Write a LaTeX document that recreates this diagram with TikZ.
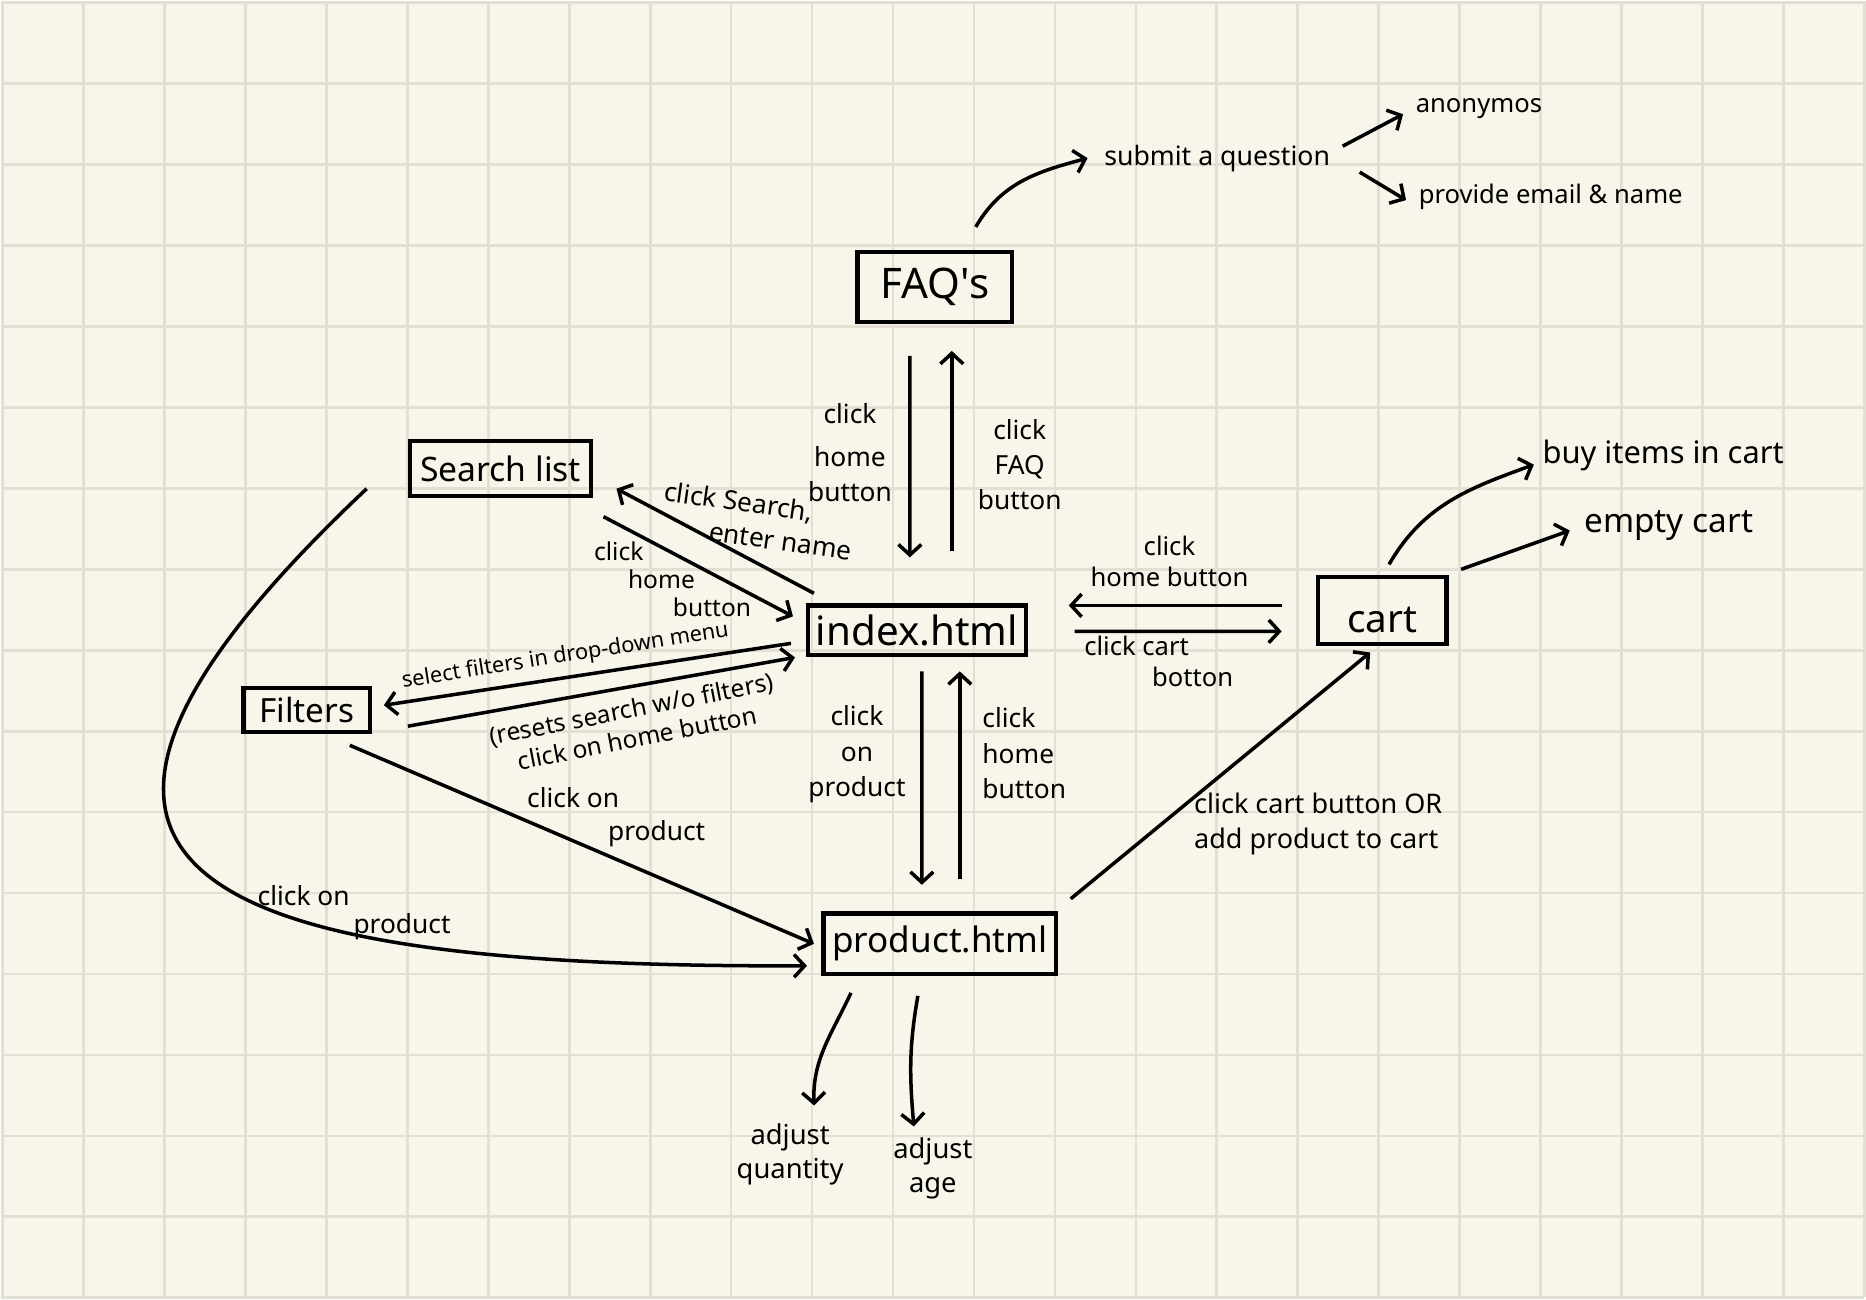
\documentclass[tikz,border=0pt]{standalone}
\usepackage{fontspec}
\setmainfont{Noto Sans}
\usetikzlibrary{arrows.meta, calc}
\usepackage{xcolor}

\definecolor{paper}{HTML}{F8F6EA}
\definecolor{gridc}{HTML}{E3E0D3}

\begin{document}
\begin{tikzpicture}[>={Straight Barb[length=3pt,width=6.5pt]},
  page/.style={draw, line width=1.2pt, inner sep=0pt},
  flow/.style={->, line width=1pt},
  lbl/.style={font=\fontsize{7.5}{9.5}\selectfont, inner sep=0pt, align=center},
  goal/.style={font=\fontsize{7.6}{9}\selectfont, inner sep=0pt, anchor=west}]

  % grid paper
  \fill[paper] (0,0) rectangle (18.66,-12.98);
  \foreach \i in {0,...,23}
    \draw[gridc, line width=0.8pt] ({0.01+0.811*\i},0) -- ++(0,-12.98);
  \foreach \j in {0,...,16}
    \draw[gridc, line width=0.8pt] (0,{-0.01-0.811*\j}) -- ++(18.66,0);
  \useasboundingbox (0,0) rectangle (18.66,-12.98);

  % pages
  \node[page, minimum width=1.55cm, minimum height=0.70cm, font=\fontsize{12}{14}\selectfont] (faq) at (9.35,-2.86) {FAQ\textquotesingle s};
  \node[page, minimum width=1.81cm, minimum height=0.55cm, font=\fontsize{9.6}{12}\selectfont] (search) at (5.00,-4.68) {Search list};
  \node[page, minimum width=2.18cm, minimum height=0.50cm, font=\fontsize{11.5}{13}\selectfont] (index) at (9.17,-6.30) {index.html};
  \node[page, minimum width=1.27cm, minimum height=0.44cm, font=\fontsize{9.5}{11}\selectfont] (filters) at (3.06,-7.10) {Filters};
  \node[page, minimum width=1.29cm, minimum height=0.67cm, font=\fontsize{11}{13}\selectfont, text height=0.44cm, text depth=0pt] (cart) at (13.83,-6.10) {cart};
  \node[page, minimum width=2.33cm, minimum height=0.61cm, font=\fontsize{10}{12}\selectfont] (product) at (9.40,-9.44) {product.html};

  % outcomes
  \node[goal] (submit) at (11.04,-1.57) {submit a question};
  \node[goal, font=\fontsize{7.3}{9}\selectfont] (anon) at (14.16,-1.07) {anonymos};
  \node[goal, font=\fontsize{7.3}{9}\selectfont] (provide) at (14.19,-1.96) {provide email \& name};
  \node[goal, font=\fontsize{8.8}{10}\selectfont] (buy) at (15.43,-4.55) {buy items in cart};
  \node[goal, font=\fontsize{9.5}{11}\selectfont] (empty) at (15.85,-5.25) {empty cart};
  \node[lbl, font=\fontsize{7.8}{9.5}\selectfont] (quantity) at (7.90,-11.55) {adjust\\quantity};
  \node[lbl, font=\fontsize{7.8}{9.5}\selectfont] (age) at (9.33,-11.69) {adjust\\age};

  % FAQ
  \draw[flow] ($(faq.north)+(0.41,0.23)$) to[out=60,in=195] ($(submit.west)+(-0.16,0)$);
  \draw[flow] ($(submit.east)+(0.12,0.12)$) -- ($(anon.west)+(-0.12,-0.06)$);
  \draw[flow] ($(submit.east)+(0.29,-0.14)$) -- ($(provide.west)+(-0.12,-0.03)$);
  \draw[flow] ($(faq.south)+(-0.25,-0.32)$) -- ($(index.north)+(-0.07,0.46)$);
  \draw[flow] ($(index.north)+(0.35,0.52)$) -- ($(faq.south)+(0.17,-0.27)$);
  \node[lbl, font=\fontsize{7.5}{10}\selectfont] (lfaqdown) at (8.50,-4.52) {click\\[2pt]home\\button};
  \node[lbl, font=\fontsize{7.5}{10}\selectfont] (lfaqup) at (10.20,-4.64) {click\\FAQ\\button};

  % search list
  \draw[flow] ($(index.north west)+(0.08,0.10)$) -- ($(search.south east)+(0.235,0.095)$);
  \draw[flow] ($(search.south east)+(0.105,-0.185)$) -- ($(index.west)+(-0.13,0.14)$);
  \node[lbl, align=left, rotate=-8] (lsearch) at (7.58,-5.20) {click Search,\\\hspace*{0.5cm}enter name};
  \node[lbl, align=left, anchor=west, font=\fontsize{7}{8}\selectfont] (lsearchback) at (5.93,-5.79) {click\\\hspace*{0.34cm}home\\\hspace*{0.79cm}button};
  \draw[flow] ($(search.south west)+(-0.415,0.095)$) .. controls (-0.5,-8.8) and (2.09,-9.68) .. ($(product.west)+(-0.145,-0.22)$);
  \node[lbl, align=left, anchor=west, font=\fontsize{7.5}{8}\selectfont] (lcurve) at (2.56,-9.13) {click on\\\hspace*{0.96cm}product};

  % filters
  \draw[flow] ($(index.west)+(-0.15,-0.13)$) -- ($(filters.east)+(0.115,0.05)$);
  \draw[flow] ($(filters.east)+(0.355,-0.16)$) -- ($(index.south west)+(-0.11,0)$);
  \node[lbl, rotate=9, font=\fontsize{6.2}{7}\selectfont] (lfilt) at (5.65,-6.56) {select filters in drop-down menu};
  \node[lbl, rotate=11, font=\fontsize{7}{8.5}\selectfont] (lreset) at (6.34,-7.23) {(resets search w/o filters)\\click on home button};
  \draw[flow] ($(filters.south)+(0.43,-0.11)$) -- ($(product.west)+(-0.075,0)$);
  \node[lbl, align=left, anchor=west] (lfiltprod) at (5.26,-8.17) {click on\\\hspace*{0.81cm}product};

  % product
  \draw[flow] ($(index.south)+(0.05,-0.14)$) -- ($(product.north)+(-0.18,0.265)$);
  \draw[flow] ($(product.north)+(0.20,0.325)$) -- ($(index.south)+(0.43,-0.14)$);
  \node[lbl, font=\fontsize{7.5}{10}\selectfont] (lprod) at (8.57,-7.54) {click\\on\\product};
  \node[lbl, align=left, anchor=west, font=\fontsize{7.5}{10}\selectfont] (lhome) at (9.82,-7.53) {click\\home\\button};
  \draw[flow] ($(product.south)+(-0.89,-0.165)$) to[out=-115,in=92] ($(quantity.north)+(0.24,0.18)$);
  \draw[flow] ($(product.south)+(-0.22,-0.195)$) to[out=-100,in=95] ($(age.north)+(-0.19,0.11)$);

  % cart
  \draw[flow] ($(cart.west)+(-0.34,0.05)$) -- ($(index.east)+(0.41,0.25)$);
  \draw[flow] ($(index.east)+(0.47,-0.01)$) -- ($(cart.west)+(-0.34,-0.21)$);
  \node[lbl, font=\fontsize{7.3}{9}\selectfont] (lcarthome) at (11.70,-5.61) {click\\home button};
  \node[lbl, align=left, anchor=west, font=\fontsize{7.3}{9}\selectfont] (lcart) at (10.84,-6.61) {click cart\\\hspace*{0.68cm}botton};
  \draw[flow] ($(product.north east)+(0.125,0.125)$) -- ($(cart.south)+(-0.12,-0.065)$);
  \node[lbl, align=left, anchor=west, font=\fontsize{7.7}{10}\selectfont] (laddcart) at (11.94,-8.24) {click cart button OR\\add product to cart};
  \draw[flow] ($(cart.north)+(0.07,0.105)$) to[out=60,in=200] ($(buy.west)+(-0.08,-0.09)$);
  \draw[flow] ($(cart.north east)+(0.125,0.055)$) -- ($(empty.west)+(-0.14,-0.05)$);
\end{tikzpicture}
\end{document}
